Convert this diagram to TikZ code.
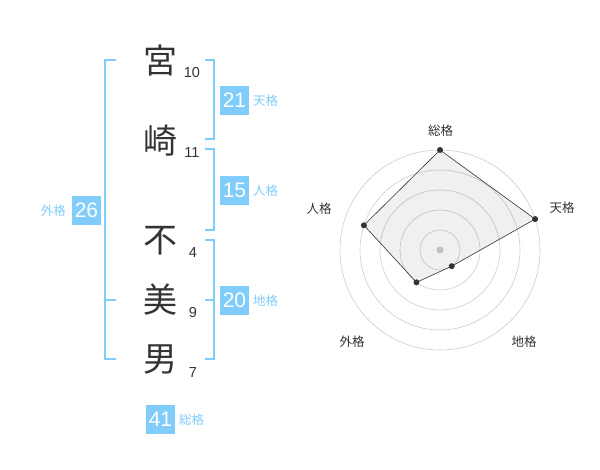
\documentclass[tikz,border=0pt]{standalone}
\usepackage{fontspec}
\setmainfont{Liberation Sans}
\newfontfamily\cjk{Noto Sans CJK JP}
\definecolor{kblue}{RGB}{128,204,250}
\definecolor{ktext}{RGB}{51,51,51}
\definecolor{kgrid}{RGB}{204,204,204}
\begin{document}
\begin{tikzpicture}[x=1pt,y=-1pt,
  kanji/.style={font=\cjk\fontsize{34}{34}\selectfont,text=ktext,inner sep=0pt},
  strokes/.style={font=\fontsize{14.5}{14.5}\selectfont,text=ktext,inner sep=0pt},
  bracket/.style={draw=kblue,line width=1.6pt},
  numbox/.style={fill=kblue,text=white,minimum width=29pt,minimum height=29pt,inner sep=0pt,font=\fontsize{21}{21}\selectfont},
  kaku/.style={text=kblue,font=\cjk\fontsize{12.5}{12.5}\selectfont,inner sep=0pt},
  axlabel/.style={text=ktext,font=\cjk\fontsize{12.5}{12.5}\selectfont,inner sep=0pt},
  ring/.style={draw=kgrid,line width=0.6pt},
  dot/.style={circle,fill=ktext,inner sep=0pt,minimum size=6pt}]
\useasboundingbox (0,0) rectangle (600,470);
% kanji
\node[kanji] (k1) at (160,61) {宮};
\node[kanji] (k2) at (160,141) {崎};
\node[kanji] (k3) at (160,241) {不};
\node[kanji] (k4) at (160,300) {美};
\node[kanji] (k5) at (160,359) {男};
\node[strokes] (s1) at (192,73) {10};
\node[strokes] (s2) at (192,153) {11};
\node[strokes] (s3) at (193,253) {4};
\node[strokes] (s4) at (193,313) {9};
\node[strokes] (s5) at (193,373) {7};
% brackets
\draw[bracket] (205,60) -- (214,60) -- (214,139) -- (205,139);
\draw[bracket] (205,149) -- (214,149) -- (214,230) -- (205,230);
\draw[bracket] (205,240) -- (214,240) -- (214,359) -- (205,359);
\draw[bracket] (214,300) -- (205,300);
\draw[bracket] (116,60) -- (105,60) -- (105,359) -- (116,359);
\draw[bracket] (105,300) -- (116,300);
% boxes
\node[numbox] (b1) at (234.5,100.5) {21};
\node[kaku,anchor=west] (l1) at (253,101) {天格};
\node[numbox] (b2) at (234.5,190.5) {15};
\node[kaku,anchor=west] (l2) at (253,191) {人格};
\node[numbox] (b3) at (234.5,300.5) {20};
\node[kaku,anchor=west] (l3) at (253,301) {地格};
\node[numbox] (b4) at (86.5,210.5) {26};
\node[kaku,anchor=east] (l4) at (66,211) {外格};
\node[numbox] (b5) at (160.5,419) {41};
\node[kaku,anchor=west] (l5) at (179,420) {総格};
% radar
\coordinate (c) at (440,250);
\foreach \r in {20,40,60,80,100} \draw[ring] (c) circle[radius=\r];
\fill[kgrid] (c) circle[radius=3.5];
\path (c) ++(0,-100) coordinate (p1);
\path (c) ++(95.1,-30.9) coordinate (p2);
\path (c) ++(11.76,16.18) coordinate (p3);
\path (c) ++(-23.51,32.36) coordinate (p4);
\path (c) ++(-76.08,-24.72) coordinate (p5);
\draw[fill=black,fill opacity=0.06,draw=ktext,line width=0.6pt] (p1) -- (p2) -- (p3) -- (p4) -- (p5) -- cycle;
\foreach \p in {p1,p2,p3,p4,p5} \node[dot] at (\p) {};
\node[axlabel] (a1) at (440.5,131) {総格};
\node[axlabel] (a2) at (562,208) {天格};
\node[axlabel] (a3) at (524,342) {地格};
\node[axlabel] (a4) at (352,342) {外格};
\node[axlabel] (a5) at (319,209) {人格};
\end{tikzpicture}
\end{document}
